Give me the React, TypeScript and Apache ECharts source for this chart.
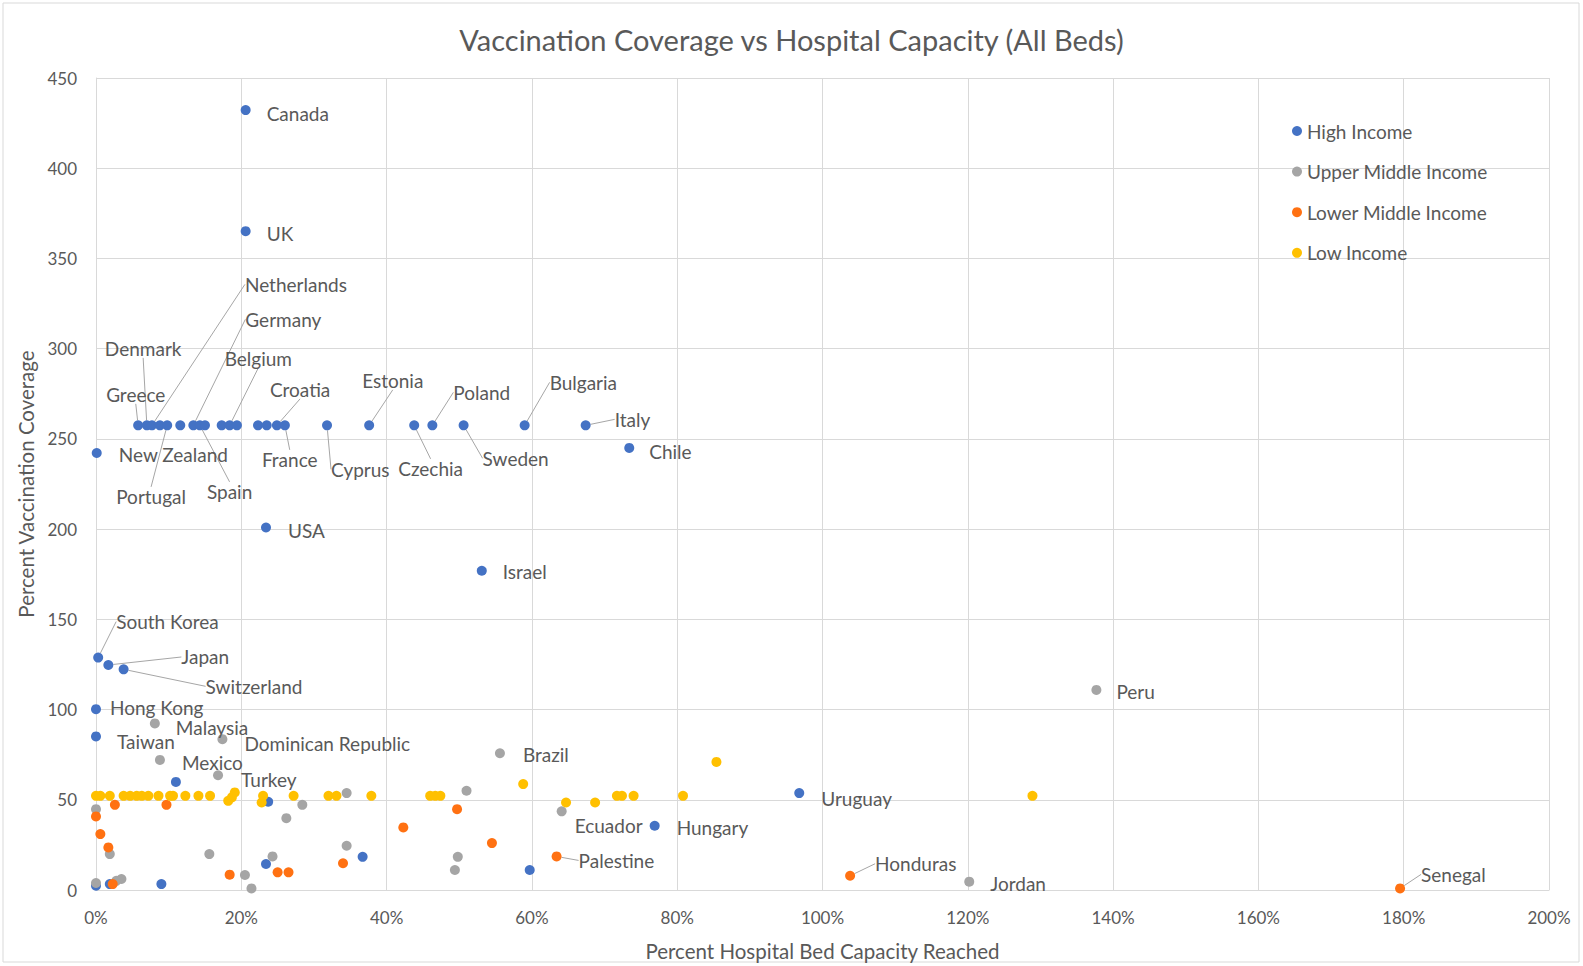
import React, { useEffect, useRef } from "react";
import * as echarts from "echarts";

// [percent hospital bed capacity reached, percent vaccination coverage, country]
const highIncome: [number, number, string][] = [
  [20.6, 432.2, "Canada"],
  [20.6, 365.1, "UK"],
  [5.8, 257.5, "Greece"],
  [7.0, 257.5, "Denmark"],
  [7.7, 257.5, "Netherlands"],
  [8.8, 257.5, ""],
  [9.8, 257.5, "Portugal"],
  [11.6, 257.5, ""],
  [13.4, 257.5, "Germany"],
  [14.3, 257.5, "Spain"],
  [15.0, 257.5, ""],
  [17.3, 257.5, ""],
  [18.4, 257.5, "Belgium"],
  [19.4, 257.5, ""],
  [22.3, 257.5, ""],
  [23.5, 257.5, ""],
  [24.9, 257.5, "Croatia"],
  [26.0, 257.5, "France"],
  [31.8, 257.5, "Cyprus"],
  [37.6, 257.5, "Estonia"],
  [43.8, 257.5, "Czechia"],
  [46.3, 257.5, "Poland"],
  [50.6, 257.5, "Sweden"],
  [59.0, 257.5, "Bulgaria"],
  [67.4, 257.5, "Italy"],
  [73.4, 245.0, "Chile"],
  [0.1, 242.2, "New Zealand"],
  [23.4, 200.9, "USA"],
  [53.1, 176.9, "Israel"],
  [0.3, 128.8, "South Korea"],
  [1.7, 124.7, "Japan"],
  [3.8, 122.3, "Switzerland"],
  [0.0, 100.2, "Hong Kong"],
  [0.0, 85.1, "Taiwan"],
  [11.0, 59.9, ""],
  [23.7, 48.9, ""],
  [0.0, 2.4, ""],
  [1.9, 3.3, ""],
  [9.0, 3.3, ""],
  [23.4, 14.4, ""],
  [36.7, 18.4, ""],
  [59.7, 11.1, ""],
  [76.9, 35.6, "Hungary"],
  [96.8, 53.7, "Uruguay"],
];

const upperMiddleIncome: [number, number, string][] = [
  [137.7, 110.9, "Peru"],
  [8.1, 92.3, "Malaysia"],
  [17.4, 83.6, "Dominican Republic"],
  [8.8, 72.1, "Mexico"],
  [16.8, 63.6, "Turkey"],
  [55.6, 75.8, "Brazil"],
  [64.1, 43.6, "Ecuador"],
  [120.2, 4.6, "Jordan"],
  [0.0, 3.9, ""],
  [0.0, 44.8, ""],
  [1.9, 19.9, ""],
  [3.5, 6.1, ""],
  [2.8, 5.1, ""],
  [15.6, 19.9, ""],
  [20.5, 8.3, ""],
  [21.4, 0.9, ""],
  [24.3, 18.6, ""],
  [26.2, 39.8, ""],
  [28.4, 47.2, ""],
  [34.5, 53.7, ""],
  [34.5, 24.5, ""],
  [49.8, 18.4, ""],
  [49.4, 11.1, ""],
  [51.0, 55.0, ""],
];

const lowerMiddleIncome: [number, number, string][] = [
  [0.0, 40.8, ""],
  [2.6, 47.2, ""],
  [0.6, 31.0, ""],
  [1.7, 23.6, ""],
  [2.3, 3.3, ""],
  [9.7, 47.2, ""],
  [18.4, 8.5, ""],
  [25.0, 9.8, ""],
  [26.5, 9.8, ""],
  [34.0, 14.8, ""],
  [42.3, 34.7, ""],
  [49.7, 44.8, ""],
  [54.5, 26.0, ""],
  [63.4, 18.6, "Palestine"],
  [103.8, 7.9, "Honduras"],
  [179.5, 0.9, "Senegal"],
];

const lowIncome: [number, number, string][] = [
  [0.0, 52.2, ""],
  [0.6, 52.2, ""],
  [1.9, 52.2, ""],
  [3.8, 52.2, ""],
  [4.7, 52.2, ""],
  [5.6, 52.2, ""],
  [6.3, 52.2, ""],
  [7.2, 52.2, ""],
  [8.6, 52.2, ""],
  [10.2, 52.2, ""],
  [10.6, 52.2, ""],
  [12.3, 52.2, ""],
  [14.1, 52.2, ""],
  [15.7, 52.2, ""],
  [18.2, 49.4, ""],
  [18.7, 51.3, ""],
  [19.1, 54.1, ""],
  [22.8, 48.5, ""],
  [23.0, 52.2, ""],
  [27.2, 52.2, ""],
  [32.0, 52.2, ""],
  [33.1, 52.2, ""],
  [37.9, 52.2, ""],
  [46.0, 52.2, ""],
  [46.7, 52.2, ""],
  [47.4, 52.2, ""],
  [58.8, 58.7, ""],
  [64.7, 48.5, ""],
  [68.7, 48.5, ""],
  [71.7, 52.2, ""],
  [72.4, 52.2, ""],
  [74.0, 52.2, ""],
  [80.8, 52.2, ""],
  [85.4, 71.0, ""],
  [128.9, 52.2, ""],
];

const seriesNames = ["High Income", "Upper Middle Income", "Lower Middle Income", "Low Income"];
const seriesColors = ["#4472C4", "#A5A5A5", "#FF7112", "#FFC000"];
const xTickFormat = (v: number) => `${v}%`;

// label offsets (label left edge / vertical middle relative to marker centre, px) and leader-line flag
const labelOffsets: Record<string, [number, number, boolean]> = {
  Canada: [21, 3, false],
  UK: [21, 2, false],
  Netherlands: [93, -141, true],
  Germany: [52, -106, true],
  Denmark: [-42, -77, true],
  Greece: [-32, -31, true],
  Belgium: [-5, -67, true],
  Croatia: [-7, -36, true],
  France: [-23, 34, true],
  "New Zealand": [22, 2, false],
  Portugal: [-51, 71, true],
  Spain: [7, 66, true],
  Cyprus: [4, 44, true],
  Estonia: [-7, -45, true],
  Czechia: [-16, 43, true],
  Poland: [21, -33, true],
  Sweden: [19, 33, true],
  Bulgaria: [25, -43, true],
  Italy: [29, -6, true],
  Chile: [20, 4, false],
  USA: [22, 3, false],
  Israel: [21, 1, false],
  "South Korea": [18, -36, true],
  Japan: [73, -8, true],
  Switzerland: [82, 17, true],
  "Hong Kong": [14, -2, false],
  Malaysia: [21, 4, false],
  Taiwan: [21, 5, false],
  "Dominican Republic": [22, 4, false],
  Mexico: [22, 3, false],
  Turkey: [23, 4, false],
  Brazil: [23, 1, false],
  Ecuador: [13, 14, false],
  Hungary: [22, 2, false],
  Palestine: [22, 4, true],
  Uruguay: [22, 5, false],
  Honduras: [25, -12, true],
  Jordan: [21, 2, false],
  Peru: [20, 2, false],
  Senegal: [21, -14, true],
};

const FONT = "Lato";
const TEXT = "#595959";
const GRID = "#D9D9D9";
const LABEL_SIZE = 19;

function toItems(rows: [number, number, string][]) {
  return rows.map(([x, y, name]) => {
    const off = name ? labelOffsets[name] : undefined;
    return {
      value: [x, y],
      name,
      label: { show: !!off },
      labelLine: { show: !!(off && off[2]) },
    };
  });
}

export default function App() {
  const ref = useRef<HTMLDivElement>(null);
  useEffect(() => {
    if (!ref.current) return;
    const chart = echarts.init(ref.current, undefined, { renderer: "svg" });
    const all = [highIncome, upperMiddleIncome, lowerMiddleIncome, lowIncome];
    chart.setOption({
      animation: false,
      backgroundColor: "#ffffff",
      textStyle: { fontFamily: FONT },
      title: {
        text: "Vaccination Coverage vs Hospital Capacity (All Beds)",
        left: "center",
        top: 20,
        textStyle: { fontFamily: FONT, fontSize: 29, fontWeight: "normal", color: TEXT },
      },
      graphic: [
        {
          type: "rect",
          shape: { x: 3, y: 3, width: 1576, height: 959 },
          style: { fill: "none", stroke: GRID, lineWidth: 1 },
          silent: true,
        },
      ],
      legend: {
        data: seriesNames,
        orient: "vertical",
        left: 1287,
        top: 116,
        icon: "circle",
        itemWidth: 10,
        itemHeight: 10,
        itemGap: 20.6,
        textStyle: { fontFamily: FONT, fontSize: LABEL_SIZE, color: TEXT, lineHeight: 20 },
      },
      grid: { left: 96, right: 34, top: 78, bottom: 75, containLabel: false },
      xAxis: {
        type: "value",
        min: 0,
        max: 200,
        interval: 20,
        name: "Percent Hospital Bed Capacity Reached",
        nameLocation: "middle",
        nameGap: 50,
        nameTextStyle: { fontFamily: FONT, fontSize: 20.5, color: TEXT },
        axisLine: { show: true, lineStyle: { color: GRID, width: 1 } },
        axisTick: { show: false },
        axisLabel: { formatter: xTickFormat, margin: 19, fontFamily: FONT, fontSize: 17, color: TEXT },
        splitLine: { show: true, lineStyle: { color: GRID, width: 1 } },
      },
      yAxis: {
        type: "value",
        min: 0,
        max: 450,
        interval: 50,
        name: "Percent Vaccination Coverage",
        nameLocation: "middle",
        nameGap: 58,
        nameTextStyle: { fontFamily: FONT, fontSize: 20.5, color: TEXT },
        axisLine: { show: true, lineStyle: { color: GRID, width: 1 } },
        axisTick: { show: false },
        axisLabel: { margin: 19, fontFamily: FONT, fontSize: 17, color: TEXT },
        splitLine: { show: true, lineStyle: { color: GRID, width: 1 } },
      },
      series: all.map((rows, i) => ({
        type: "scatter",
        name: seriesNames[i],
        symbol: "circle",
        symbolSize: 10,
        itemStyle: { color: seriesColors[i], opacity: 1 },
        data: toItems(rows),
        label: {
          show: false,
          position: "right",
          distance: 0,
          formatter: (p: any) => p.name,
          fontFamily: FONT,
          fontSize: LABEL_SIZE,
          color: TEXT,
        },
        labelLine: { show: false, lineStyle: { color: "#A6A6A6", width: 1 } },
        labelLayout: (p: any) => {
          const row = all[p.seriesIndex][p.dataIndex];
          const off = labelOffsets[row[2]];
          if (!off) return {};
          const cx = p.rect.x + p.rect.width / 2;
          const cy = p.rect.y + p.rect.height / 2;
          return { x: cx + off[0], y: cy + off[1], align: "left", verticalAlign: "middle" };
        },
      })),
    });
    return () => chart.dispose();
  }, []);
  return (
    <div
      ref={ref}
      style={{ position: "fixed", left: 0, top: 0, width: 1583, height: 966, background: "#fff" }}
    />
  );
}
